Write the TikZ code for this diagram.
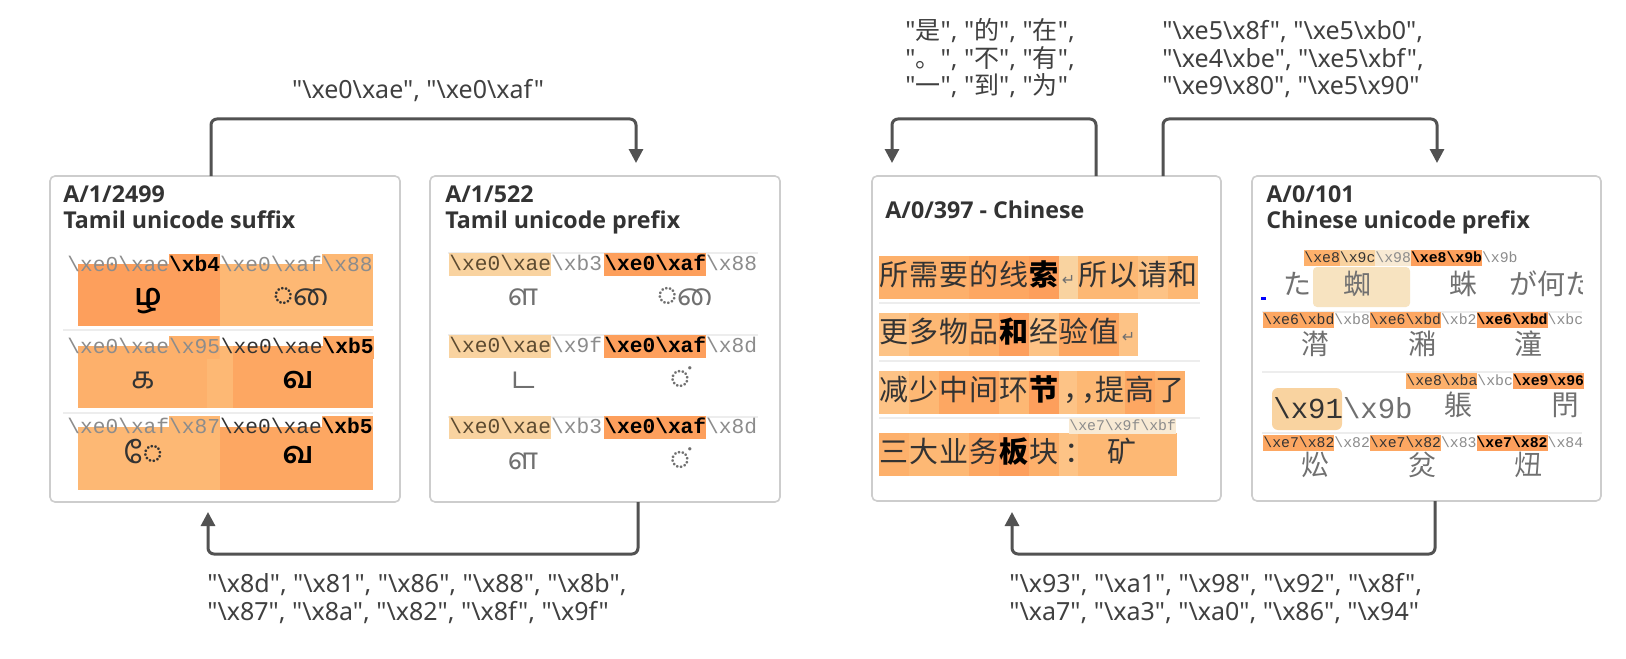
\documentclass[tikz,border=0pt]{standalone}
\usepackage{fontspec}
\setmainfont{Noto Sans}[Ligatures=TeXOff]
\setmonofont{Liberation Mono}
\newfontfamily\ttlf{Open Sans}[Ligatures=TeXOff]
\newfontfamily\tamil[Script=Tamil]{Hind Madurai}
\newfontfamily\cjk{Noto Sans CJK SC}
\newfontfamily\dvs{DejaVu Sans}
\usetikzlibrary{arrows.meta}
\definecolor{oA}{HTML}{FD9F5C}
\definecolor{oB}{HTML}{FDA762}
\definecolor{oC}{HTML}{FDB06B}
\definecolor{oD}{HTML}{FDB874}
\definecolor{oE}{HTML}{FDC386}
\definecolor{pA}{HTML}{F9D3A0}
\definecolor{pB}{HTML}{F7E3C0}
\definecolor{pC}{HTML}{F8EAD4}
\definecolor{boxline}{HTML}{CDCDCD}
\definecolor{sepc}{HTML}{EDEDED}
\definecolor{conncol}{HTML}{525252}
\definecolor{hexgray}{HTML}{8C8C8C}
\definecolor{txtgray}{HTML}{707070}
\definecolor{dark}{HTML}{333333}
\definecolor{brown}{HTML}{5C4A30}
\definecolor{labcol}{HTML}{404040}
\newcommand\bs{\textbackslash}
\newcommand\hl[2]{{\setlength\fboxsep{0pt}\colorbox{#1}{\rule[-0.3em]{0pt}{1.1em}#2}}}
\newcommand\hb[2]{\hl{#1}{\textcolor{black}{\bfseries #2}}}
\newcommand\hn[3]{\hl{#1}{\textcolor{#2}{#3}}}
\newcommand\zz[1]{{\cjk #1}}
\newsavebox\aiA
\newsavebox\aiB
\newlength\aiwA
\newlength\aiwB
% dotted circle followed by the vowel sign AI, drawn as the reference shows it
\newcommand\aisign[3]{%
  \node[inner sep=0pt, anchor=base west, text=#3, font=\fontsize{15}{16}\tamil] at (#1,#2) {◌};
  \begin{scope}
    \clip ([xshift=-10pt]#1,#2-45) rectangle ([xshift=\aiwA]#1,#2+15);
    \node[inner sep=0pt, anchor=base west, text=#3, font=\fontsize{15}{16}\tamil] at ([xshift=\aiwB]#1,#2) {◌ை};
  \end{scope}}
\newcommand\zc[5]{\fill[#3] (#1,\ya) rectangle ++(#2,\yb); \node[zh,#5] at ({#1+#2/2},\yc) {#4};}
\begin{document}
\sbox\aiA{\fontsize{15}{16}\tamil ◌ை}%
\sbox\aiB{\fontsize{15}{16}\tamil ◌}%
\setlength\aiwA{\wd\aiA}%
\setlength\aiwB{\wd\aiB}%
\begin{tikzpicture}[x=0.5pt,y=-0.5pt,
  panel/.style={draw=boxline, line width=0.8pt, rounded corners=2.5pt, fill=white, anchor=north west, inner sep=0pt, outer sep=0pt, minimum width=175pt, minimum height=163pt},
  conn/.style={draw=conncol, line width=1.5pt, rounded corners=3pt, -{Triangle[width=7pt,length=7pt]}},
  ttl/.style={anchor=base west, inner sep=0pt, font=\fontsize{11.6}{13}\ttlf\bfseries, text=dark},
  hexL/.style={anchor=base west, inner sep=0pt, font=\fontsize{10.6}{11}\ttfamily, text=hexgray},
  hexS/.style={anchor=base west, inner sep=0pt, font=\fontsize{7.4}{8}\ttfamily, text=hexgray},
  hexB/.style={anchor=base west, inner sep=0pt, font=\fontsize{14.5}{15}\ttfamily, text=txtgray},
  tam/.style={anchor=base, inner sep=0pt, font=\fontsize{15}{16}\tamil, text=dark},
  tamb/.style={tam, font=\fontsize{15}{16}\tamil\bfseries, text=black},
  tamg/.style={tam, text=txtgray},
  zh/.style={inner sep=0pt, text height=0.88em, text depth=0.12em, font=\fontsize{14.5}{15}\cjk, text=dark},
  zb/.style={font=\fontsize{14.5}{15}\cjk\bfseries, text=black},
  zg/.style={zh, font=\fontsize{14}{15}\cjk, text=txtgray},
  lab/.style={anchor=base west, inner sep=0pt, font=\fontsize{12.5}{14}\selectfont, text=labcol},
  sepl/.style={draw=sepc, line width=0.6pt}]
\useasboundingbox (0,0) rectangle (1626,658);
\fill[white] (0,0) rectangle (1626,658);

% ---------- panels ----------
\node[panel] (b1) at (50,176) {};
\node[panel] (b2) at (430,176) {};
\node[panel, minimum width=174.5pt, minimum height=162.5pt] (b3) at (872,176) {};
\node[panel, minimum width=174.5pt, minimum height=162.5pt] (b4) at (1252,176) {};

% ---------- connectors ----------
\draw[conn] ([xshift=-7pt]b1.north) -- ++(0,28.5pt) -| ([xshift=15.5pt,yshift=6.5pt]b2.north);
\draw[conn] ([xshift=16.5pt]b2.south) -- ++(0,-26pt) -| ([xshift=-8.5pt,yshift=-5pt]b1.south);
\draw[conn] ([xshift=24.75pt]b3.north) -- ++(0,28.5pt) -| ([xshift=-77.25pt,yshift=6.5pt]b3.north);
\draw[conn] ([xshift=58.25pt]b3.north) -- ++(0,28.5pt) -| ([xshift=5.25pt,yshift=6.5pt]b4.north);
\draw[conn] ([xshift=4.25pt]b4.south) -- ++(0,-26.5pt) -| ([xshift=-17.25pt,yshift=-5.5pt]b3.south);

% ---------- connector labels ----------
\node[lab, anchor=base] (t1) at (418,98) {"\bs xe0\bs xae", "\bs xe0\bs xaf"};
\node[lab] (t2a) at (207,592) {"\bs x8d", "\bs x81", "\bs x86", "\bs x88", "\bs x8b",};
\node[lab] (t2b) at (207,620) {"\bs x87", "\bs x8a", "\bs x82", "\bs x8f", "\bs x9f"};
\node[lab] (t3a) at (905,40) {"\zz{是}", "\zz{的}", "\zz{在}",};
\node[lab] (t3b) at (905,67.5) {"\zz{。}", "\zz{不}", "\zz{有}",};
\node[lab] (t3c) at (905,95) {"\zz{一}", "\zz{到}", "\zz{为}"};
\node[lab] (t4a) at (1162,40) {"\bs xe5\bs x8f", "\bs xe5\bs xb0",};
\node[lab] (t4b) at (1162,67.5) {"\bs xe4\bs xbe", "\bs xe5\bs xbf",};
\node[lab] (t4c) at (1162,95) {"\bs xe9\bs x80", "\bs xe5\bs x90"};
\node[lab] (t5a) at (1009,592) {"\bs x93", "\bs xa1", "\bs x98", "\bs x92", "\bs x8f",};
\node[lab] (t5b) at (1009,620) {"\bs xa7", "\bs xa3", "\bs xa0", "\bs x86", "\bs x94"};

% ---------- panel 1 : Tamil unicode suffix ----------
\node[ttl] (p1a) at (63,202) {A/1/2499};
\node[ttl] (p1b) at (63,228) {Tamil unicode suffix};
% row 1
\fill[oA] (78,264) rectangle (219.6,326);
\fill[oD] (219.6,264) rectangle (373,326);
\node[hexL] at (67,271) {\bs xe0\bs xae\hb{oA}{\bs xb4}};
\node[hexL] at (219.6,271) {\bs xe0\bs xaf\hl{oD}{\bs x88}};
\node[tamb] at (148,305) {ழ};
\aisign{273}{305}{dark}
\draw[sepl] (63,330) -- (373,330);
% row 2
\fill[oC] (78,346) rectangle (207,408);
\fill[oD] (207,346) rectangle (233,408);
\fill[oB] (233,346) rectangle (373,408);
\begin{scope}
\clip (60,330) rectangle (219.6,410);
\node[hexL] at (67,353) {\bs xe0\bs xae\hl{oC}{\bs x95}};
\end{scope}
\node[hexL] at (220.5,353) {\textcolor{dark}{\bs xe0\bs xae}\hb{oB}{\bs xb5}};
\node[tam] at (143,388) {க};
\node[tamb] at (298,388) {வ};
\draw[sepl] (63,413) -- (373,413);
% row 3
\fill[oD] (78,427) rectangle (219.6,490);
\fill[oB] (219.6,427) rectangle (373,490);
\node[hexL] at (67,433) {\bs xe0\bs xaf\hl{oD}{\bs x87}};
\node[hexL] at (219.6,433) {\textcolor{dark}{\bs xe0\bs xae}\hb{oB}{\bs xb5}};
\node[tam] at (143,463) {◌ே};
\node[tamb] at (298,463) {வ};

% ---------- panel 2 : Tamil unicode prefix ----------
\node[ttl] (p2a) at (445,202) {A/1/522};
\node[ttl] (p2b) at (445,228) {Tamil unicode prefix};
\draw[sepl] (448,253) -- (758,253);
\node[hexL] at (449,270) {\hn{pA}{brown}{\bs xe0\bs xae}\bs xb3};
\node[hexL] at (604,270) {\hb{oA}{\bs xe0\bs xaf}\bs x88};
\node[tamg] at (523,305) {ள};
\aisign{657}{305}{txtgray}
\draw[sepl] (448,335) -- (758,335);
\node[hexL] at (449,352) {\hn{pA}{brown}{\bs xe0\bs xae}\bs x9f};
\node[hexL] at (604,352) {\hb{oA}{\bs xe0\bs xaf}\bs x8d};
\node[tamg] at (523,388) {ட};
\node[tamg] at (680,388) {◌்};
\draw[sepl] (448,417) -- (758,417);
\node[hexL] at (449,433) {\hn{pA}{brown}{\bs xe0\bs xae}\bs xb3};
\node[hexL] at (604,433) {\hb{oA}{\bs xe0\bs xaf}\bs x8d};
\node[tamg] at (523,469) {ள};
\node[tamg] at (680,469) {◌்};

% ---------- panel 3 : Chinese ----------
\node[ttl] (p3a) at (885,218) {A/0/397 - Chinese};
\def\yb{43}
% row 1
\def\ya{256}\def\yc{277.5}
\zc{879}{30}{oC}{所}{}
\zc{909}{30}{oC}{需}{}
\zc{939}{30}{oC}{要}{}
\zc{969}{30}{oB}{的}{}
\zc{999}{30}{oB}{线}{}
\zc{1029}{30}{oA}{索}{zb}
\zc{1059}{19}{pA}{\dvs\fontsize{8}{8}\selectfont ↵}{text=txtgray}
\zc{1078}{30}{oD}{所}{}
\zc{1108}{30}{oD}{以}{}
\zc{1138}{30}{oE}{请}{}
\zc{1168}{30}{oD}{和}{}
\draw[sepl] (879,303) -- (1200,303);
% row 2
\def\ya{313}\def\yc{335}
\zc{879}{30}{oE}{更}{}
\zc{909}{30}{oD}{多}{}
\zc{939}{30}{oD}{物}{}
\zc{969}{30}{oC}{品}{}
\zc{999}{30}{oA}{和}{zb}
\zc{1029}{30}{oE}{经}{}
\zc{1059}{30}{oB}{验}{}
\zc{1089}{30}{oB}{值}{}
\zc{1119}{19}{oE}{\dvs\fontsize{8}{8}\selectfont ↵}{text=txtgray}
\draw[sepl] (879,361) -- (1200,361);
% row 3
\def\ya{371}\def\yc{393}
\zc{879}{30}{oE}{减}{}
\zc{909}{30}{oD}{少}{}
\zc{939}{30}{oB}{中}{}
\zc{969}{30}{oB}{间}{}
\zc{999}{30}{oD}{环}{}
\zc{1029}{30}{oA}{节}{zb}
\zc{1059}{18}{oE}{\hspace*{10pt}，}{}
\zc{1077}{18}{oD}{\hspace*{10pt}，}{}
\zc{1095}{30}{oD}{提}{}
\zc{1125}{30}{oB}{高}{}
\zc{1155}{30}{oC}{了}{}
\draw[sepl] (879,418) -- (1200,418);
% row 4
\def\ya{433}\def\yc{455}
\zc{879}{30}{oC}{三}{}
\zc{909}{30}{oD}{大}{}
\zc{939}{30}{oD}{业}{}
\zc{969}{30}{oB}{务}{}
\zc{999}{30}{oA}{板}{zb}
\zc{1029}{30}{oC}{块}{}
\zc{1059}{19}{oE}{\hspace*{10pt}：}{}
\fill[oD] (1078,433) rectangle (1177,476);
\node[hexS] at (1069,430) {\hl{pC}{\bs xe7\bs x9f\bs xbf}};
\node[zh] at (1122,455) {矿};

% ---------- panel 4 : Chinese unicode prefix ----------
\node[ttl] (p4a) at (1266,202) {A/0/101};
\node[ttl] (p4b) at (1266,228) {Chinese unicode prefix};
% row 1
\fill[pB, rounded corners=2pt] (1313,267) rectangle (1410,307);
\node[hexS] at (1304,262) {\hn{oC}{dark}{\bs xe8}\hn{pA}{dark}{\bs x9c}\hl{pC}{\bs x98}\hb{oA}{\bs xe8\bs x9b}\bs x9b};
\node[zg] at (1297,287) {た};
\node[zg] at (1357,287) {蜘};
\node[zg] at (1463,287) {蛛};
\begin{scope}
\clip (1500,262) rectangle (1582,312);
\node[zg, anchor=west] at (1509,287) {が何た};
\end{scope}
\fill[blue] (1261,297) rectangle (1266,299.5);
\draw[sepl] (1262,312) -- (1582,312);
% row 2
\node[hexS] at (1263,324) {\hn{oB}{dark}{\bs xe6\bs xbd}\bs xb8\hn{oB}{dark}{\bs xe6\bs xbd}\bs xb2\hb{oA}{\bs xe6\bs xbd}\bs xbc};
\node[zg] at (1315,347) {潸};
\node[zg] at (1422,347) {潲};
\node[zg] at (1528,347) {潼};
\draw[sepl] (1262,372) -- (1582,372);
% row 3
\node[hexS] at (1406,385) {\hn{oC}{dark}{\bs xe8\bs xba}\bs xbc\hb{oA}{\bs xe9\bs x96}};
\fill[pA, rounded corners=3pt] (1272,388) rectangle (1342,430);
\node[hexB] at (1273,418) {\textcolor{dark}{\bs x91}\bs x9b};
\node[zg] at (1458,408) {躼};
\node[zg] at (1565,408) {閅};
\draw[sepl] (1262,433) -- (1582,433);
% row 4
\node[hexS] at (1263,447) {\hn{oB}{dark}{\bs xe7\bs x82}\bs x82\hn{oB}{dark}{\bs xe7\bs x82}\bs x83\hb{oA}{\bs xe7\bs x82}\bs x84};
\node[zg] at (1315,468) {炂};
\node[zg] at (1422,468) {炃};
\node[zg] at (1528,468) {炄};
\end{tikzpicture}
\end{document}
